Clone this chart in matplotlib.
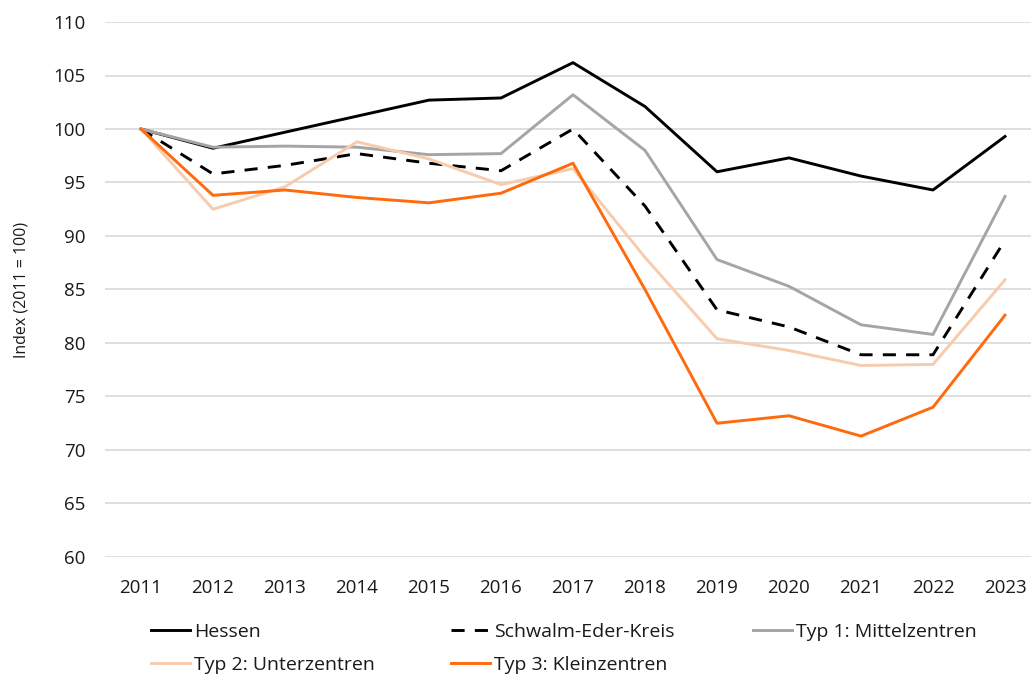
import matplotlib
matplotlib.use("Agg")
import matplotlib.pyplot as plt

years = [2011, 2012, 2013, 2014, 2015, 2016, 2017, 2018, 2019, 2020, 2021, 2022, 2023]

hessen = [100, 98.2, 99.7, 101.2, 102.7, 102.9, 106.2, 102.1, 96.0, 97.3, 95.6, 94.3, 99.3]
schwalm_eder = [100, 95.8, 96.6, 97.7, 96.8, 96.1, 100.0, 92.8, 83.1, 81.5, 78.9, 78.9, 89.6]
mittelzentren = [100, 98.3, 98.4, 98.3, 97.6, 97.7, 103.2, 98.0, 87.8, 85.3, 81.7, 80.8, 93.7]
unterzentren = [100, 92.5, 94.6, 98.8, 97.2, 94.8, 96.3, 88.0, 80.4, 79.3, 77.9, 78.0, 85.9]
kleinzentren = [100, 93.8, 94.3, 93.6, 93.1, 94.0, 96.8, 85.0, 72.5, 73.2, 71.3, 74.0, 82.6]

series_labels = ["Hessen", "Schwalm-Eder-Kreis", "Typ 1: Mittelzentren",
                 "Typ 2: Unterzentren", "Typ 3: Kleinzentren"]
y_ticks = list(range(60, 111, 5))

plt.rcParams["font.family"] = ["Open Sans", "DejaVu Sans"]

W, H = 1031, 676
fig = plt.figure(figsize=(W / 100, H / 100), dpi=100)
ax = fig.add_axes([105 / W, 1 - 557 / H, 936 / W, 535 / H])

lw = 2.1
h_hessen, = ax.plot(years, hessen, color="#000000", lw=lw)
h_sek, = ax.plot(years, schwalm_eder, color="#000000", lw=lw, ls=(0, (4.5, 3.5)))
h_t1, = ax.plot(years, mittelzentren, color="#A5A5A5", lw=lw)
h_t2, = ax.plot(years, unterzentren, color="#F8CBAD", lw=lw)
h_t3, = ax.plot(years, kleinzentren, color="#FF6A0D", lw=lw)

ax.set_xlim(2010.5, 2023.5)
ax.set_ylim(60, 110)
ax.set_yticks(y_ticks)
ax.set_xticks(years)
ax.set_xticklabels([str(y) for y in years])
ax.grid(axis="y", color="#D9D9D9", lw=1.2)
ax.set_axisbelow(True)
for s in ax.spines.values():
    s.set_visible(False)
ax.tick_params(length=0, labelsize=13.5, colors="#1a1a1a")
ax.tick_params(axis="y", pad=14)
ax.tick_params(axis="x", pad=16)
ax.set_ylabel("Index (2011 = 100)", fontsize=11.5, color="#1a1a1a", labelpad=17)

# legend laid out in fixed-width columns below the plot
columns = [
    ([h_hessen, h_t2], [series_labels[0], series_labels[3]], 151),
    ([h_sek, h_t3], [series_labels[1], series_labels[4]], 451),
    ([h_t1], [series_labels[2]], 753),
]
for hs, ls_, x0 in columns:
    leg = fig.legend(hs, ls_, loc="upper left",
                     bbox_to_anchor=(x0 / W, 1 - 623 / H),
                     frameon=False, fontsize=14, handlelength=2.0,
                     handletextpad=0.2, labelspacing=0.78,
                     borderaxespad=0, borderpad=0)
    for t in leg.get_texts():
        t.set_color("#1a1a1a")

fig.savefig("out.png", dpi=100)
